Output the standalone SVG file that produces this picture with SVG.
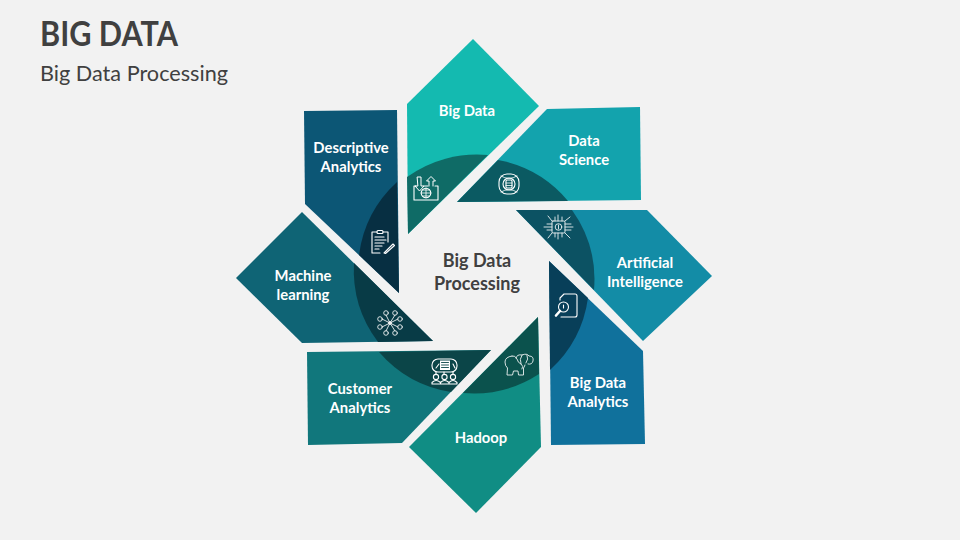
<svg xmlns="http://www.w3.org/2000/svg" width="960" height="540" viewBox="0 0 960 540">
<style>
text{font-family:Lato,"Open Sans","Liberation Sans",sans-serif;text-anchor:middle}
.l{font-size:14.800px;font-weight:700;fill:#fff}
.c{font-size:18px;font-weight:700;fill:#404040}
.i{fill:none;stroke:#fff;stroke-width:1.100;stroke-linecap:round;stroke-linejoin:round}
.t{stroke-width:.9;opacity:.92}
</style>
<rect width="960" height="540" fill="#f2f2f2"/>
<text x="40" y="46" textLength="138" lengthAdjust="spacingAndGlyphs" style="text-anchor:start;font-size:34px;font-weight:700;fill:#404040">BIG DATA</text>
<text x="40" y="81" textLength="188" lengthAdjust="spacingAndGlyphs" style="text-anchor:start;font-size:22px;fill:#404040">Big Data Processing</text>
<g id="connectors"/>
<g id="center"><text class="c" x="477" y="267">Big Data</text><text class="c" x="477" y="290">Processing</text></g>

<g id="node-big-data">
<polygon points="473,39 539,106 408,234 407,104" fill="#14bab0"/>
<path d="M407 177A120 120 0 0 1 488 155L408 234Z" fill="#0f6b66"/>
<text class="l" x="467" y="116">Big Data</text>
<g class="i"><path d="M416 186H414V200H438V186H435M428 186H424"/><path d="M417.500 177H421V186H424L419.500 191L415 186H417.500ZM429 186V181H426.500L431 176.500L435.500 181H433V186" stroke-width="1"/><circle cx="426" cy="193" r="4.800"/><path d="M421 193H431M426 188V198M423 190H429M423 196H429" stroke-width=".8"/></g>
</g>

<g id="node-data-science">
<polygon points="547,109 640,107 641,200 457,202" fill="#13a3ad"/>
<path d="M498 160A120 120 0 0 1 568 201L457 202Z" fill="#0b5a62"/>
<text class="l" x="584" y="146">Data</text><text class="l" x="584" y="165">Science</text>
<g class="i"><rect x="499" y="174" width="20" height="20" rx="8"/><circle cx="509" cy="184" r="6"/><rect x="506" y="180" width="6" height="8" rx="1"/><path d="M506 183H512M506 185.500H512M501 176Q509 181 517 176M501 192Q509 187 517 192" stroke-width=".8"/></g>
</g>

<g id="node-ai">
<polygon points="516,210 647,210 712,276 643,341" fill="#138ca6"/>
<path d="M572 210A120 120 0 0 1 594 290L516 210Z" fill="#0c5263"/>
<text class="l" x="645" y="268">Artificial</text><text class="l" x="645" y="287">Intelligence</text>
<g class="i t"><rect x="552" y="221" width="13" height="12" rx="1"/><circle cx="558.500" cy="227" r="3.300"/><path d="M558.500 225V229M555 217V221M558 215V221M562 217V221M555 233V237M558 233V239M562 233V237M552 224H547M552 227H544M552 230H547M565 224H571M565 227H573M565 230H571M552 221L548 216M565 221L570 217M552 233L548 238M565 233L570 238"/></g>
</g>

<g id="node-big-data-analytics">
<polygon points="549,261 643,351 645,444 551,445" fill="#10719c"/>
<path d="M549 261L588 298A120 120 0 0 1 550 370Z" fill="#083f59"/>
<text class="l" x="598" y="388">Big Data</text><text class="l" x="598" y="407">Analytics</text>
<g class="i"><path d="M560 300V298L564 294H575Q577 294 577 296V315Q577 317 575 317H561"/><circle cx="563.500" cy="307" r="5"/><path d="M560 311L556 315.500" stroke-width="2.600"/><path d="M563.500 305V308"/></g>
</g>

<g id="node-hadoop">
<polygon points="538,317 541,447 476,513 409,447" fill="#108d84"/>
<path d="M538 317L539 374A120 120 0 0 1 463 393Z" fill="#0b524d"/>
<text class="l" x="481" y="443">Hadoop</text>
<g class="i t"><path d="M512 356Q505 357 505 362Q505 366 507.500 368L507 375H512.500L513.500 371H518L518.500 375H523.500L523.500 368Q525 366 525 365"/><path d="M516 358Q517 354 522 355Q527 353 529 356Q534 356 533 361Q532 365 528 364"/><path d="M512 356Q515 355 517 359Q518 363 521 364Q524 366 522 369"/><path d="M522 355Q519 359 521 364M527 355Q529 359 526 363"/></g>
</g>

<g id="node-customer-analytics">
<polygon points="307,352 491,350 402,443 308,445" fill="#11777c"/>
<path d="M379 352L491 350L451 392A120 120 0 0 1 379 352Z" fill="#0b4548"/>
<text class="l" x="360" y="394">Customer</text><text class="l" x="360" y="413">Analytics</text>
<g class="i"><rect x="432" y="359" width="25" height="13" rx="6"/><rect x="440" y="360.500" width="10" height="9.500" fill="#fff" stroke="none"/><path d="M441.500 362.500H448.500M441.500 365H448.500M441.500 367.500H448.500" stroke="#0b4548" stroke-width=".9"/><path d="M436 368L439 364M453 364L455 368M436 372V374M444 372V374M453 372V374"/><circle cx="436" cy="377" r="2.600"/><circle cx="444.500" cy="377" r="2.600"/><circle cx="453" cy="377" r="2.600"/><path d="M432 384V382.500Q436 378.500 440.500 382.500V384ZM440.500 384V382.500Q444.500 378.500 449 382.500V384ZM449 384V382.500Q453 378.500 457 382.500V384Z"/></g>
</g>

<g id="node-machine-learning">
<polygon points="302,212 433,341 302,343 236,278" fill="#0f6475"/>
<path d="M354 263L433 341L378 342A120 120 0 0 1 354 263Z" fill="#083b46"/>
<text class="l" x="303" y="281">Machine</text><text class="l" x="303" y="300">learning</text>
<g class="i t"><circle cx="386" cy="313" r="2.300"/><circle cx="395" cy="313" r="2.300"/><circle cx="380" cy="319" r="2.300"/><circle cx="400" cy="319" r="2.300"/><circle cx="380" cy="327" r="2.300"/><circle cx="400" cy="327" r="2.300"/><circle cx="386" cy="333" r="2.300"/><circle cx="395" cy="333" r="2.300"/><path d="M390 323L386 315M390 323L395 315M390 323L382 319M390 323L398 319M390 323L382 327M390 323L398 327M390 323L386 331M390 323L395 331"/><circle cx="390" cy="323" r="1.500" fill="#fff"/></g>
</g>

<g id="node-descriptive-analytics">
<polygon points="304,111 397,110 399,293 305,204" fill="#0c5675"/>
<path d="M397 182L399 293L359 255A120 120 0 0 1 397 182Z" fill="#072f42"/>
<text class="l" x="351" y="153">Descriptive</text><text class="l" x="351" y="172">Analytics</text>
<g class="i"><path d="M383 232H388V242M380 253H372V232H377"/><rect x="377" y="230.500" width="6" height="3" rx="1"/><path d="M375 237H384M375 240H386M375 243H384M375 246H382M375 249H379" stroke-width="1.200"/><path d="M384 253L393 244L394.500 245.500L385.500 253.500L384 253Z"/></g>
</g>
</svg>
